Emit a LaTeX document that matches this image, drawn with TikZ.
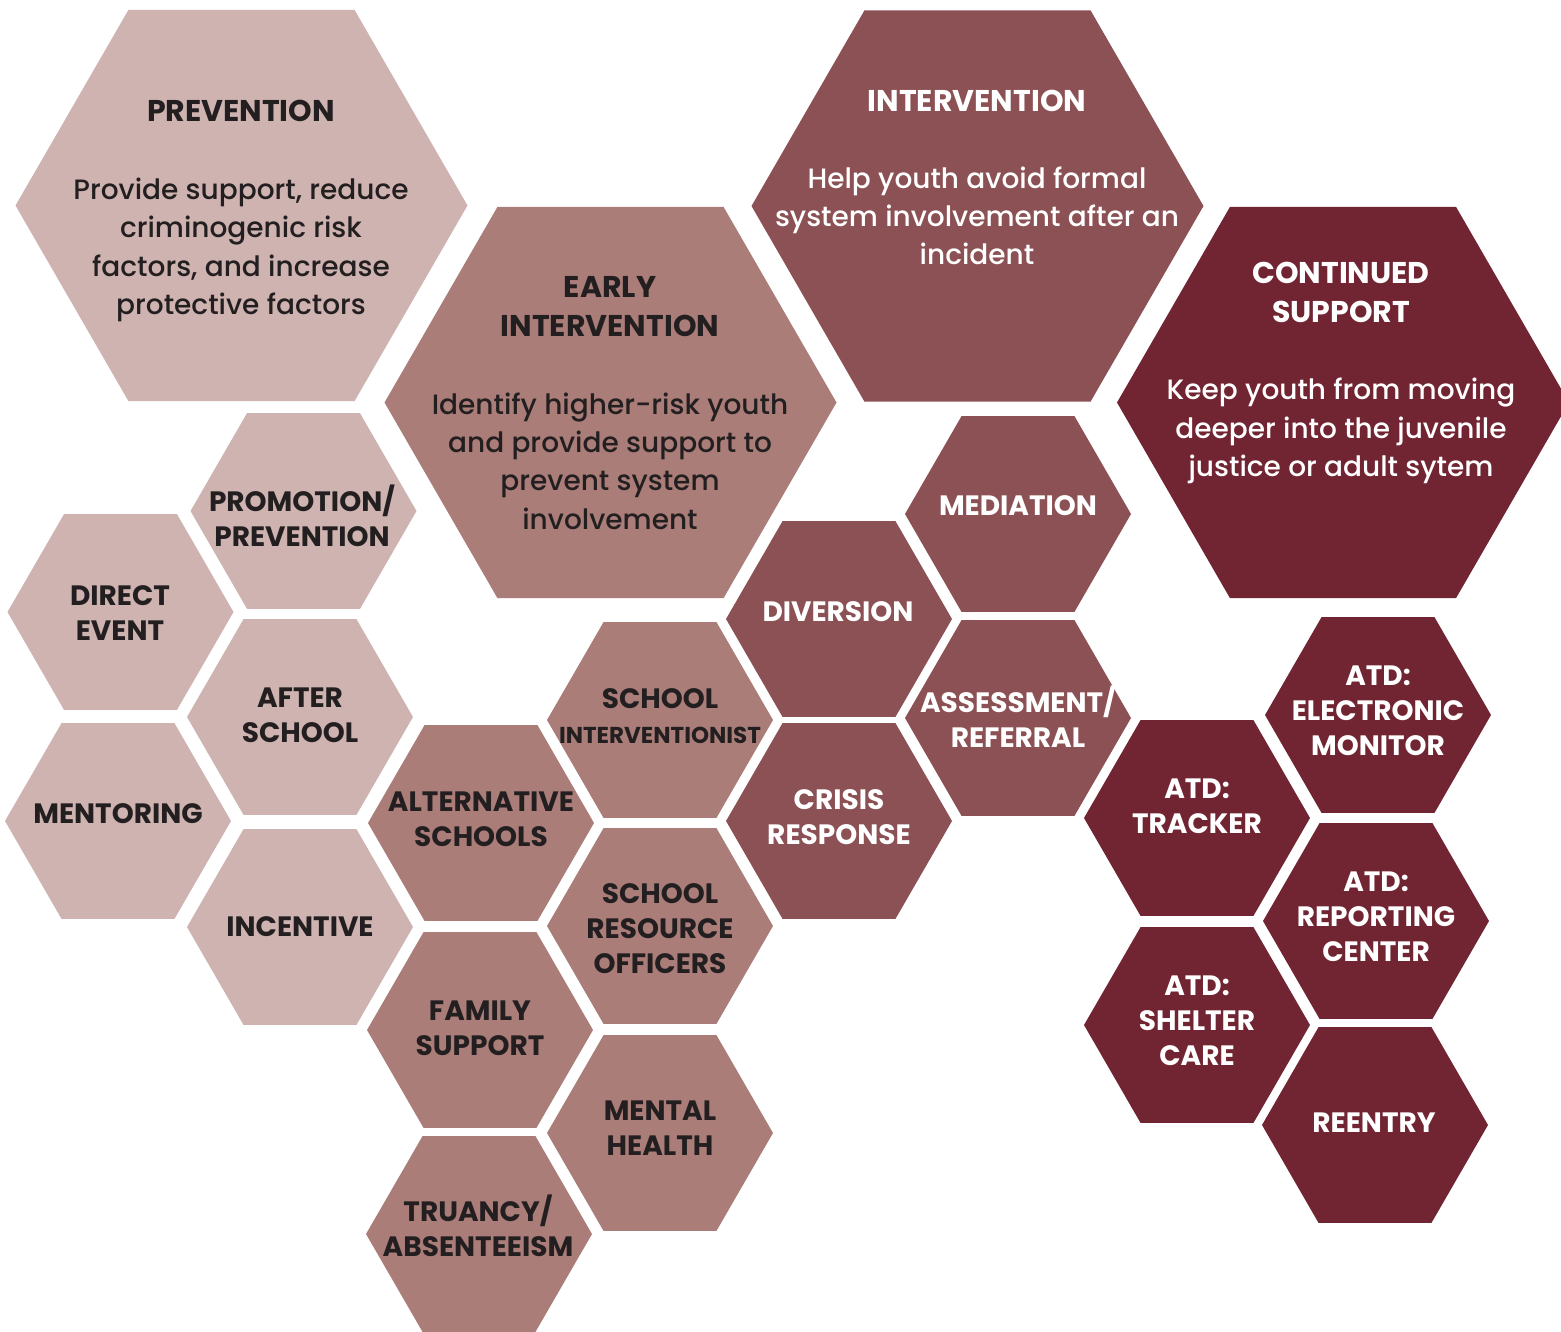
\documentclass[tikz,border=0pt]{standalone}
\usepackage{fontspec}
\setmainfont{Poppins}[UprightFont={* Medium},BoldFont={* Bold}]
\newfontface\lblface{Poppins Bold}
\definecolor{c1}{HTML}{CEB3B0}
\definecolor{c2}{HTML}{AA7D79}
\definecolor{c3}{HTML}{8C5154}
\definecolor{c4}{HTML}{712432}
\definecolor{ink}{HTML}{231F20}
\newcommand\hexcell[4]{\fill[#4] (#1+#3,#2) -- (#1+0.5*#3,#2-0.866*#3) -- (#1-0.5*#3,#2-0.866*#3) -- (#1-#3,#2) -- (#1-0.5*#3,#2+0.866*#3) -- (#1+0.5*#3,#2+0.866*#3) -- cycle;}
\tikzset{
  title/.style={font=\bfseries\fontsize{30}{39}\selectfont, align=center, inner sep=0pt},
  body/.style={font=\fontsize{28}{38.3}\selectfont, align=center, inner sep=0pt},
  lbl/.style={font=\lblface\fontsize{28}{35}\selectfont, align=center, inner sep=0pt},
  dk/.style={text=ink},
  wt/.style={text=white}
}
\begin{document}
\begin{tikzpicture}[x=1pt,y=-1pt]
\useasboundingbox (0,0) rectangle (1561,1331);
% large hexagons
\hexcell{241.5}{205.5}{226}{c1}
\hexcell{977.5}{206}{226}{c3}
\hexcell{610.5}{402.5}{226}{c2}
\hexcell{1343}{402.5}{226}{c4}
% small hexagons
\hexcell{303.5}{511}{113}{c1}
\hexcell{120.5}{612}{113}{c1}
\hexcell{300}{717}{113}{c1}
\hexcell{118}{821}{113}{c1}
\hexcell{300}{927}{113}{c1}
\hexcell{481}{823}{113}{c2}
\hexcell{660}{720}{113}{c2}
\hexcell{660}{926}{113}{c2}
\hexcell{480}{1030}{113}{c2}
\hexcell{660}{1133}{113}{c2}
\hexcell{479}{1234}{113}{c2}
\hexcell{839}{619}{113}{c3}
\hexcell{1018}{514}{113}{c3}
\hexcell{1018}{718}{113}{c3}
\hexcell{839}{821}{113}{c3}
\hexcell{1197}{818}{113}{c4}
\hexcell{1378}{715}{113}{c4}
\hexcell{1376}{921}{113}{c4}
\hexcell{1197}{1025}{113}{c4}
\hexcell{1375}{1125}{113}{c4}
% large texts
\node[title,dk] (prevT) at (241,111) {PREVENTION};
\node[body,dk] (prevB) at (241,250) {Provide support, reduce\\criminogenic risk\\factors, and increase\\protective factors};
\node[title,wt] (intT) at (977,101) {INTERVENTION};
\node[body,wt] (intB) at (977,216) {Help youth avoid formal\\system involvement after an\\incident};
\node[title,dk] (earlyT) at (610,306.5) {EARLY\\INTERVENTION};
\node[body,dk] (earlyB) at (610,461) {Identify higher-risk youth\\and provide support to\\prevent system\\involvement};
\node[title,wt] (contT) at (1341,292.5) {CONTINUED\\SUPPORT};
\node[body,wt] (contB) at (1341,431) {Keep youth from moving\\deeper into the juvenile\\justice or adult sytem};
% small labels
\node[lbl,dk] (promo) at (302,515.5) {PROMOTION/\\PREVENTION};
\node[lbl,dk] (direct) at (120,613) {DIRECT\\EVENT};
\node[lbl,dk] (after) at (300,715.5) {AFTER\\SCHOOL};
\node[lbl,dk] (mentor) at (118,814) {MENTORING};
\node[lbl,dk] (incent) at (300,927) {INCENTIVE};
\node[lbl,dk] (alt) at (481,819.5) {ALTERNATIVE\\SCHOOLS};
\node[lbl,dk] (interv) at (660,716) {SCHOOL\\{\fontsize{23}{30}\selectfont INTERVENTIONIST}};
\node[lbl,dk] (sro) at (660,929) {SCHOOL\\RESOURCE\\OFFICERS};
\node[lbl,dk] (family) at (480,1028.5) {FAMILY\\SUPPORT};
\node[lbl,dk] (mental) at (660,1128) {MENTAL\\HEALTH};
\node[lbl,dk] (truancy) at (478,1225.5) {TRUANCY/\\ABSENTEEISM};
\node[lbl,wt] (divers) at (838,612) {DIVERSION};
\node[lbl,wt] (mediat) at (1018,506) {MEDIATION};
\node[lbl,wt] (assess) at (1018,716.5) {ASSESSMENT/\\REFERRAL};
\node[lbl,wt] (crisis) at (839,817.5) {CRISIS\\RESPONSE};
\node[lbl,wt] (tracker) at (1197,806.5) {ATD:\\TRACKER};
\node[lbl,wt] (elec) at (1378,711) {ATD:\\ELECTRONIC\\MONITOR};
\node[lbl,wt] (report) at (1376,917) {ATD:\\REPORTING\\CENTER};
\node[lbl,wt] (shelter) at (1197,1021) {ATD:\\SHELTER\\CARE};
\node[lbl,wt] (reentry) at (1374,1123) {REENTRY};
\end{tikzpicture}
\end{document}
